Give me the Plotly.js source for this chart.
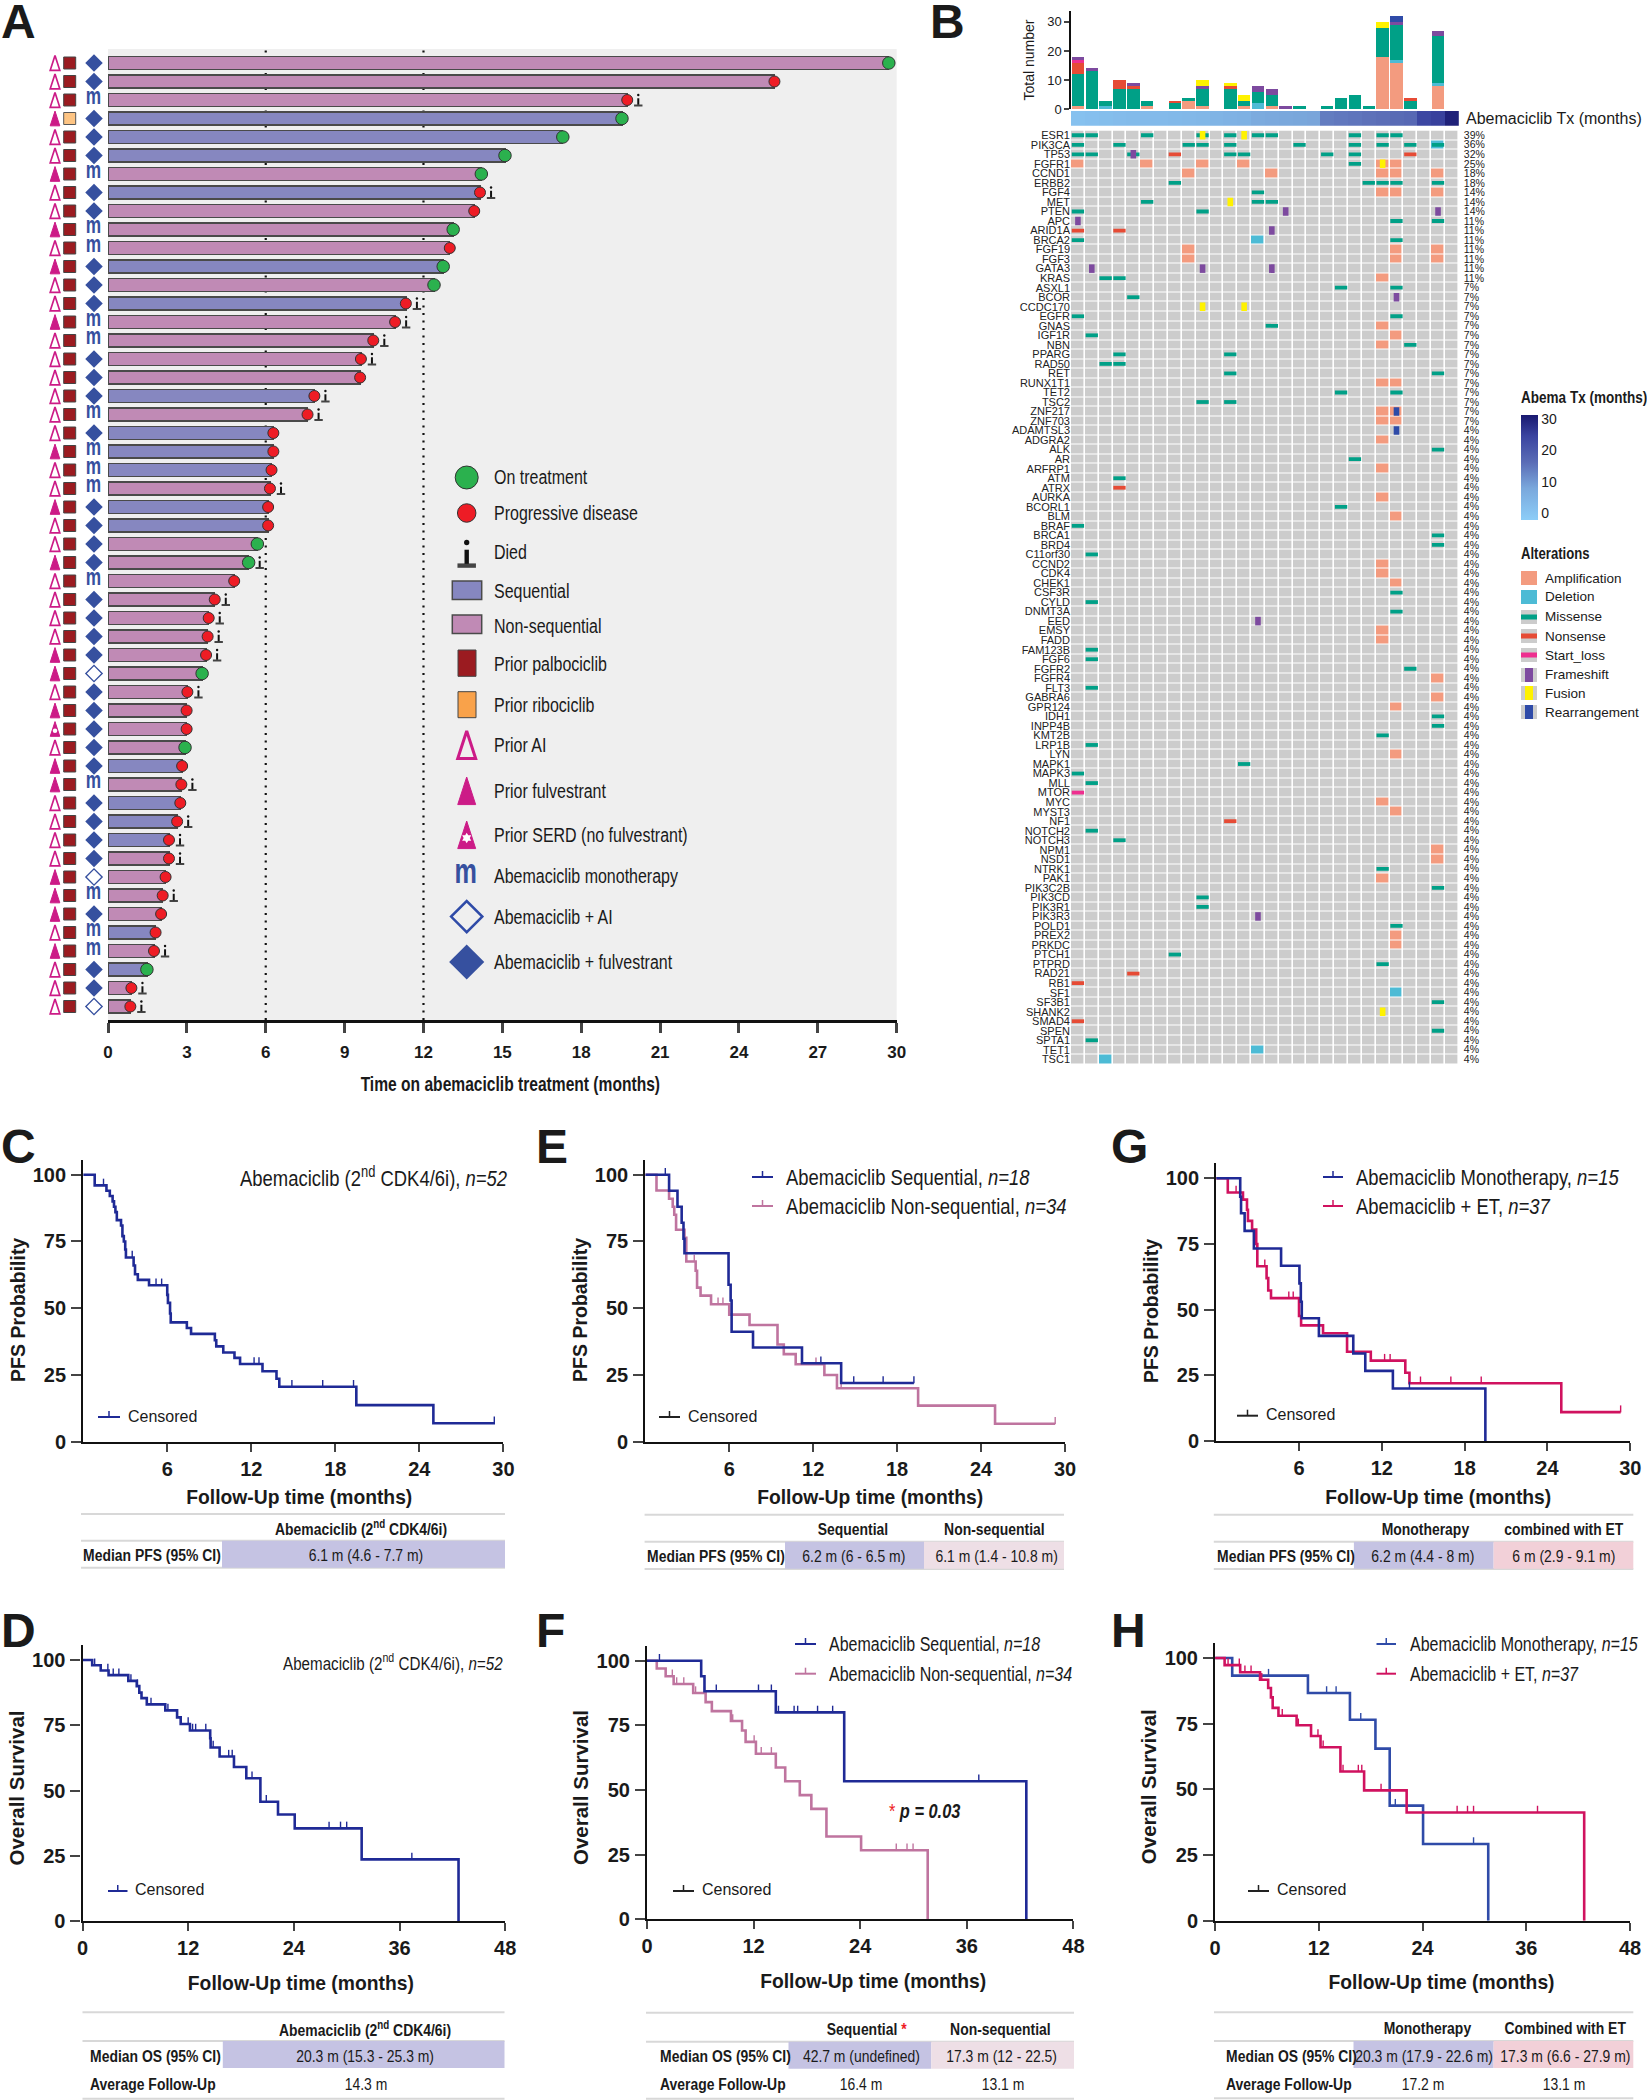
<!DOCTYPE html>
<html>
<head>
<meta charset="utf-8">
<script src="https://cdn.plot.ly/plotly-3.0.1.min.js"></script>
<style>body{margin:0;background:#fff}</style>
</head>
<body>
<div id="chart" style="width:1647px;height:2100px"></div>
<script>
// PANEL A - swimmer plot, one entry per patient, top to bottom
const patientMonths = [29.7,25.35,19.75,19.55,17.3,15.1,14.2,14.15,13.93,13.13,13.0,12.75,12.4,11.33,10.92,10.09,9.62,9.59,7.85,7.59,6.29,6.29,6.22,6.16,6.09,6.09,5.68,5.35,4.8,4.06,3.83,3.79,3.73,3.58,3.02,2.99,2.99,2.93,2.82,2.79,2.75,2.63,2.32,2.32,2.19,2.08,2.02,1.81,1.75,1.48,0.89,0.85];
const patientGroup = "N N N S S S N S N N N S N S N N N N S N S S S N S S N N N N N N N N N N N N S N S S S N N N N S N S N N".split(" ");
const patientOnTreatment = [1,4,5,6,7,10,12,13,27,28,34,38,50];
const patientDied = [3,8,14,15,16,17,19,20,24,28,30,31,32,33,35,40,42,43,44,46,49,51,52];
const priorEt = "A A A F A A F A A F A F A A F A A A A A A F A A F A A F A A A A F F A F S A F F A A A A F F F A F A A A".split(" ");
const priorCdk = patientMonths.map((m, i) => (i === 3 ? "R" : "P"));
const regimen = "D D M D D D M D D M M D D D M M D D D M D M M M D D D D M D D D D H D D D D D M D D D D H M D M M D D H".split(" ");
const swimmerTicks = [0,3,6,9,12,15,18,21,24,27,30];
const swimmerLegend = ["On treatment","Progressive disease","Died","Sequential","Non-sequential","Prior palbociclib","Prior ribociclib","Prior AI","Prior fulvestrant","Prior SERD (no fulvestrant)","Abemaciclib monotherapy","Abemaciclib + AI","Abemaciclib + fulvestrant"];

// PANEL B - oncoprint
const genes = ["ESR1","PIK3CA","TP53","FGFR1","CCND1","ERBB2","FGF4","MET","PTEN","APC","ARID1A","BRCA2","FGF19","FGF3","GATA3","KRAS","ASXL1","BCOR","CCDC170","EGFR","GNAS","IGF1R","NBN","PPARG","RAD50","RET","RUNX1T1","TET2","TSC2","ZNF217","ZNF703","ADAMTSL3","ADGRA2","ALK","AR","ARFRP1","ATM","ATRX","AURKA","BCORL1","BLM","BRAF","BRCA1","BRD4","C11orf30","CCND2","CDK4","CHEK1","CSF3R","CYLD","DNMT3A","EED","EMSY","FADD","FAM123B","FGF6","FGFR2","FGFR4","FLT3","GABRA6","GPR124","IDH1","INPP4B","KMT2B","LRP1B","LYN","MAPK1","MAPK3","MLL","MTOR","MYC","MYST3","NF1","NOTCH2","NOTCH3","NPM1","NSD1","NTRK1","PAK1","PIK3C2B","PIK3CD","PIK3R1","PIK3R3","POLD1","PREX2","PRKDC","PTCH1","PTPRD","RAD21","RB1","SF1","SF3B1","SHANK2","SMAD4","SPEN","SPTA1","TET1","TSC1"];
const genePercent = [39,36,32,25,18,18,14,14,14,11,11,11,11,11,11,11,7,7,7,7,7,7,7,7,7,7,7,7,7,7,7].concat(genes.slice(31).map(() => 4));
const sampleColumns = [0,1,2,3,4,5,6,7,8,9,10,11,12,13,14,15,16,17,18,19,20,21,22,23,24,25,26,27];
const sampleTxMonths = [1,1.5,2,2.5,2.8,3,3,3.2,3.5,3.8,4.5,5,5.5,7,7.5,7.8,8,8.2,14,14.5,15,15.5,16,16.5,17,24,25,30];

const totalAmplification = [1,0,0,0,0,1,0,0,3,1,0,0,1,0,1,0,0,0,0,0,0,0,18,16,0,0,8,0];
const totalDeletion = [0,0,1,0,0,0,0,0,0,0,0,0,0,2,0,0,0,0,0,0,0,0,0,1,0,0,1,0];
const totalMissense = [11,13,2,7,7,2,0,2,1,6,0,7,2,4,4,0,1,0,1,4,5,1,10,12,3,0,16,0];
const totalNonsense = [4,0,0,3,1,0,0,1,0,0,0,1,0,0,0,0,0,0,0,0,0,0,0,0,1,0,0,0];
const totalStartLoss = [1,0,0,0,0,0,0,0,0,0,0,0,0,0,0,0,0,0,0,0,0,0,0,0,0,0,0,0];
const totalFrameshift = [1,1,0,0,1,0,0,0,0,1,0,0,0,2,2,1,0,0,0,0,0,0,0,1,0,0,2,0];
const totalFusion = [0,0,0,0,0,0,0,0,0,2,0,1,2,0,0,0,0,0,0,0,0,0,2,0,0,0,0,0];
const totalRearrangement = [0,0,0,0,0,0,0,0,0,0,0,0,0,0,0,0,0,0,0,0,0,0,0,2,0,0,0,0];

const amplificationCells = [["FGFR1",[0,5,9,12,22,23]],["CCND1",[8,14,22,23,26]],["FGF4",[22,23,26]],["FGF19",[8,23,26]],["FGF3",[8,23,26]],["KRAS",[22]],["GNAS",[22]],["IGF1R",[23]],["NBN",[22]],["RUNX1T1",[22,23]],["ZNF217",[22,23]],["ZNF703",[22,23]],["ADGRA2",[22]],["ARFRP1",[22]],["AURKA",[22]],["BLM",[23]],["CCND2",[22]],["CDK4",[22]],["CHEK1",[23]],["EMSY",[22]],["FADD",[22]],["FGFR4",[26]],["GABRA6",[26]],["GPR124",[23]],["LYN",[23]],["MYC",[22]],["MYST3",[23]],["NPM1",[26]],["NSD1",[26]],["PAK1",[22]],["PREX2",[23]],["PRKDC",[23]]];
const deletionCells = [["PIK3CA",[26]],["BRCA2",[13]],["SF1",[23]],["TET1",[13]],["TSC1",[2]]];
const missenseCells = [["ESR1",[0,1,5,9,11,13,14,20,22,23]],["PIK3CA",[0,3,8,9,11,16,20,22,24,26]],["TP53",[0,1,4,11,12,18,20]],["FGFR1",[20]],["ERBB2",[7,21,22,23,26]],["FGF4",[13]],["MET",[5,13,14]],["PTEN",[0,9]],["APC",[23,26]],["BRCA2",[0,23]],["KRAS",[2,3]],["ASXL1",[19,23]],["BCOR",[4]],["EGFR",[0,23]],["GNAS",[14]],["IGF1R",[1]],["NBN",[24]],["PPARG",[3,11]],["RAD50",[2,3]],["RET",[11,26]],["TET2",[19,23]],["TSC2",[9,11]],["ALK",[26]],["AR",[20]],["ATM",[3]],["BCORL1",[19]],["BRAF",[0]],["BRCA1",[26]],["BRD4",[26]],["C11orf30",[1]],["CSF3R",[23]],["CYLD",[1]],["DNMT3A",[23]],["FAM123B",[1]],["FGF6",[1]],["FGFR2",[24]],["FLT3",[1]],["IDH1",[26]],["INPP4B",[26]],["KMT2B",[22]],["LRP1B",[1]],["MAPK1",[12]],["MAPK3",[0]],["MLL",[1]],["NOTCH2",[1]],["NOTCH3",[3]],["NTRK1",[22]],["PIK3C2B",[26]],["PIK3CD",[9]],["PIK3R1",[9]],["POLD1",[23]],["PTCH1",[7]],["PTPRD",[22]],["SF3B1",[26]],["SPEN",[26]],["SPTA1",[1]]];
const nonsenseCells = [["TP53",[7,24]],["ARID1A",[0,3]],["ATRX",[3]],["NF1",[11]],["RAD21",[4]],["RB1",[0]],["SMAD4",[0]]];
const startLossCells = [["MTOR",[0]]];
const frameshiftCells = [["TP53",[4]],["PTEN",[15,26]],["APC",[0]],["ARID1A",[14]],["GATA3",[1,9,14]],["BCOR",[23]],["EED",[13]],["PIK3R3",[13]]];
const fusionCells = [["ESR1",[9,12]],["FGFR1",[22]],["MET",[11]],["CCDC170",[9,12]],["SHANK2",[22]]];
const rearrangementCells = [["ZNF217",[23]],["ADAMTSL3",[23]]];
const alterationLabels = ["Amplification","Deletion","Missense","Nonsense","Start_loss","Frameshift","Fusion","Rearrangement"];

// KM CURVES - times of the steps, survival after each step, censor ticks
const cTimes = [0,0.82,1.66,1.9,2.1,2.2,2.3,2.4,2.7,2.8,2.9,3.0,3.05,3.6,3.7,3.9,4.7,6.0,6.05,6.2,6.25,7.4,7.7,9.4,9.5,10.0,10.8,11.2,12.8,13.8,14.0,19.5,25.0,29.4];
const cSurv = [100,96,94,92,90,88,86,83,81,77,75,72,69,66,62.7,60.6,58.6,55,52,48,44.7,42.6,40.4,38,35.7,33.4,31.4,29.1,26.4,23.6,20.6,13.7,6.9,6.9];
const cCensored = [1.45,3.5,5.2,5.6,12.2,12.55,14.9,17.1,19.3,29.35];

const dTimes = [0,1.1,2.07,2.96,5.2,6.16,6.45,6.7,7.3,9.4,10.74,11.15,12.2,14.5,14.55,15.57,17.2,18.6,20.2,22.2,24.1,31.7,42.7];
const dSurv = [100,98,96,94.2,92,90,87.5,85.4,83,80.7,78,75.5,73,70,66.5,63,59,54.7,45.7,40.8,35.5,23.6,0];
const dCensored = [1.38,2.88,3.49,4.13,5.5,6.24,7.78,9.7,12,12.5,12.85,14,14.84,16.6,17,19.25,20.87,28,29.3,30,37.4];

const eSeqTimes = [0,1.7,2.3,2.6,2.73,2.8,5.95,6.1,6.17,7.7,11.2,14.0,19.2];
const eSeqSurv = [100,94,88,82,76,70.6,58.8,52.9,41.2,35.3,29.4,22,22];
const eSeqCensored = [1.43,12.55,14.9,17.0,19.2];
const eNonTimes = [0,0.8,1.7,1.96,2.07,2.2,2.8,2.93,3.6,3.7,3.95,4.7,6.0,7.45,9.45,9.9,10.75,12.8,13.7,19.5,25,29.3];
const eNonSurv = [100,94.1,91,88,85,79.4,76.4,67.5,64,57.7,54.7,51.5,47.6,43.7,36.4,32.8,29,25,20,13.5,6.7,6.7];
const eNonCensored = [3.5,5.2,5.55,12.2,14,29.3];

const fSeqTimes = [0,6.1,6.47,14.5,22.2,42.7];
const fSeqSurv = [100,94,88.2,80,53.4,0];
const fSeqCensored = [1.4,7.8,12.55,14,14.8,16.56,16.96,19.2,20.9,37.35];
const fNonTimes = [0,1.1,2.1,3,5.2,6.6,7.3,9.45,10.7,11.1,12.26,14.5,15.56,17.2,18.5,20.2,24.1,31.6];
const fNonSurv = [100,97,94,91,87.5,84,80.5,76.7,73,68.6,64,58.7,53.4,48,42.7,32,26.7,0];
const fNonCensored = [2.85,3.34,4.14,5.47,6.47,9.65,12.06,12.86,14,28.06,29.27,29.95];

const gMonoTimes = [0,1.74,1.8,2.06,2.73,4.7,6.03,6.13,6.2,7.44,9.93,10.8,12.8,19.5];
const gMonoSurv = [100,93,86.7,80,73.3,66.7,60,53,46.7,40,33.3,26.7,20,0];
const gMonoCensored = [14];
const gEtTimes = [0,0.84,1.94,2.23,2.3,2.6,2.9,2.98,3.65,3.77,3.97,6.0,6.15,7.74,9.48,11.2,13.7,14,25,29.3];
const gEtSurv = [100,94.6,91.9,88,83.8,80.5,75,66.5,62,57.3,54.4,47.6,44,41,34,30.6,26,22,11,11];
const gEtCensored = [1.44,3.52,5.26,5.58,12.2,12.6,14.8,17,19.2,29.3];

const hMonoTimes = [0,1.98,10.74,15.6,18.55,20.2,24.06,31.6];
const hMonoSurv = [100,93.3,86.7,76.5,65.5,43.8,29.2,0];
const hMonoCensored = [6.18,12.9,14,16.85,20.85,29.9];
const hEtTimes = [0,1.1,2.9,5.2,6.14,6.46,6.66,7.33,9.43,11.1,12.2,14.5,17.24,22.16,42.7];
const hEtSurv = [100,97.3,94.6,91.7,88.6,85,81,78,74.4,70.3,66,56.8,49.6,41.2,0];
const hEtCensored = [1.5,2.8,3.45,4.16,5.4,7.77,9.63,11.9,12.5,14.8,16.57,16.97,19.2,28,29.2,29.9,37.3];

const pfsTicksX = [6,12,18,24,30];
const osTicksX = [0,12,24,36,48];
const survTicksY = [0,25,50,75,100];

// STYLES
const SANS = "'Liberation Sans',Arial,sans-serif";
const NARROW = "narrow"; // no narrow face installed, squeezed after drawing
const INK = "#1a1a1a";
const NAVY = "#1f2a96";
const MAUVE = "#bf749f";
const CRIMSON = "#d0125f";
const BLUE = "#2f4ba8";
const LAVENDER = "#c5c3e3";
const PINK_PALE = "#eedfe6";
const PINK = "#f2d0d8";
const MAGENTA = "#cc1b87";
const REGIMEN_BLUE = "#36509f";
const SEQ_BAR = "#8687c0";
const NON_BAR = "#c08ab5";
const ALT = {amp:"#f39b7f",del:"#4dbbd5",mis:"#00a087",non:"#e64b35",start:"#ee2f8f",frame:"#7d4a9f",fus:"#fff200",rear:"#2f4ba8"};

const W = 1647, H = 2100;
const SQUEEZE = 0.82;
const px = x => x / W;
const py = y => 1 - y / H;

const traces = [];
const shapes = [];
const annotations = [];
const squeezed = [];
const titleShifts = [];
const layout = {
  width: W, height: H,
  margin: {l:0,r:0,t:0,b:0},
  paper_bgcolor: "#fff",
  plot_bgcolor: "rgba(0,0,0,0)",
  showlegend: false,
  font: {family: SANS, color: INK},
  shapes, annotations
};

let axisCount = 0;
function newAxes(xa, ya) {
  axisCount++;
  const s = axisCount === 1 ? "" : String(axisCount);
  layout["xaxis" + s] = Object.assign({anchor: "y" + s, fixedrange: true, zeroline: false, showgrid: false}, xa);
  layout["yaxis" + s] = Object.assign({anchor: "x" + s, fixedrange: true, zeroline: false, showgrid: false}, ya);
  return {x: "x" + s, y: "y" + s};
}

function note(x, y, text, size, opts) {
  const o = opts || {};
  const family = o.family || NARROW;
  if (family === NARROW) squeezed.push({index: annotations.length, anchor: o.anchor || "left"});
  annotations.push({xref:"paper",yref:"paper",x:px(x),y:py(y),text,showarrow:false,
    xanchor:o.anchor||"left",yanchor:"middle",borderpad:0,
    font:{family:SANS,size,color:o.color||INK}});
}
function rect(x0, y0, x1, y1, fill, line) {
  shapes.push({type:"rect",xref:"paper",yref:"paper",layer:"below",x0:px(x0),x1:px(x1),y0:py(y0),y1:py(y1),
    fillcolor:fill,line:line||{width:0}});
}
function hline(x0, x1, y, color, width) {
  shapes.push({type:"line",xref:"paper",yref:"paper",layer:"below",x0:px(x0),x1:px(x1),y0:py(y),y1:py(y),line:{color,width}});
}
function censorKey(x0, x1, y, color) {
  hline(x0, x1, y, color, 2);
  const mid = (x0 + x1) / 2;
  shapes.push({type:"line",xref:"paper",yref:"paper",x0:px(mid),x1:px(mid),y0:py(y-6),y1:py(y),line:{color,width:1.5}});
}

// Panel letters
[["A",0,21],["B",929,21],["C",0,1146],["D",0,1630],["E",535,1146],["F",535,1630],["G",1110,1146],["H",1110,1630]]
  .forEach(p => note(p[1], p[2], "<b>" + p[0] + "</b>", 48, {family: SANS}));

// ---------- PANEL A ----------
const ROW_TOP = 63, ROW_STEP = 18.5, A_TOP = 49, A_BOTTOM = 1020;
const rowRange = [1 + (A_BOTTOM - ROW_TOP) / ROW_STEP, 1 + (A_TOP - ROW_TOP) / ROW_STEP];
const rows = patientMonths.map((m, i) => i + 1);

rect(108, A_TOP, 896.7, A_BOTTOM, "#efefef");
const swim = newAxes(
  {domain:[px(108),px(896.7)],range:[0,30],tickmode:"array",tickvals:swimmerTicks,ticks:"outside",ticklen:10,tickwidth:2.5,
   showline:true,linewidth:2.5,linecolor:"#111",ticklabelstandoff:5,tickfont:{size:17,weight:"bold"},
   title:{text:"<b>Time on abemaciclib treatment (months)</b>",font:{size:20},standoff:16}},
  {domain:[py(A_BOTTOM),py(A_TOP)],range:rowRange,visible:false}
);
[6,12].forEach(v => shapes.push({type:"line",xref:swim.x,yref:"paper",layer:"below",x0:v,x1:v,y0:py(A_BOTTOM),y1:py(A_TOP),
  line:{color:"#111",width:2.2,dash:"2px,5.5px"}}));

traces.push({type:"bar",orientation:"h",xaxis:swim.x,yaxis:swim.y,x:patientMonths,y:rows,width:0.7,
  marker:{color:patientGroup.map(g => g === "S" ? SEQ_BAR : NON_BAR),line:{color:"#4a4a4a",width:1.3}}});
traces.push({type:"scatter",mode:"markers",xaxis:swim.x,yaxis:swim.y,cliponaxis:false,
  x:patientMonths.filter((m,i) => !patientOnTreatment.includes(i+1)),
  y:rows.filter(r => !patientOnTreatment.includes(r)),
  marker:{color:"#ee1c25",size:11,line:{color:"#333",width:1}}});
traces.push({type:"scatter",mode:"markers",xaxis:swim.x,yaxis:swim.y,cliponaxis:false,
  x:patientOnTreatment.map(r => patientMonths[r-1]),y:patientOnTreatment,
  marker:{color:"#2bb14e",size:12.5,line:{color:"#333",width:1}}});

function candle(ax, xs, ys, k, unit) {
  traces.push({type:"scatter",mode:"markers",xaxis:ax.x,yaxis:ax.y,cliponaxis:false,x:xs,y:ys.map(v => v + 5.5*k/unit),
    marker:{symbol:"line-ew",size:6*k,line:{color:"#444",width:2*k}}});
  traces.push({type:"scatter",mode:"markers",xaxis:ax.x,yaxis:ax.y,cliponaxis:false,x:xs,y:ys.map(v => v + 1.5*k/unit),
    marker:{symbol:"line-ns",size:4.6*k,line:{color:"#111",width:2*k}}});
  traces.push({type:"scatter",mode:"markers",xaxis:ax.x,yaxis:ax.y,cliponaxis:false,x:xs,y:ys.map(v => v - 5*k/unit),
    marker:{color:"#111",size:2.4*k}});
}
candle(swim, patientDied.map(r => patientMonths[r-1] + 0.42), patientDied, 1, ROW_STEP);

// Symbol columns left of the bars, x axis in page pixels
const symbols = newAxes({domain:[px(40),px(106)],range:[40,106],visible:false},
  {domain:[py(A_BOTTOM),py(A_TOP)],range:rowRange,visible:false});
const COL_ET = 55, COL_CDK = 69.7, COL_REG = 94;
const pick = (arr, key) => rows.filter((r, i) => arr[i] === key);
const symTrace = (col, ys, marker, dy) => traces.push({type:"scatter",mode:"markers",xaxis:symbols.x,yaxis:symbols.y,
  x:ys.map(() => col),y:ys.map(v => v - (dy||0)),marker});
symTrace(COL_ET, pick(priorEt,"A"), {symbol:"arrow-open",size:15.5,color:MAGENTA,line:{color:MAGENTA,width:1.7}}, 0.4);
symTrace(COL_ET, pick(priorEt,"F"), {symbol:"arrow",size:15.5,color:MAGENTA,line:{color:MAGENTA,width:1}}, 0.4);
symTrace(COL_ET, pick(priorEt,"S"), {symbol:"arrow",size:15.5,color:MAGENTA,line:{color:MAGENTA,width:1}}, 0.4);
symTrace(COL_ET, pick(priorEt,"S"), {symbol:"circle",size:4.5,color:"#fff"}, -0.1);
symTrace(COL_CDK, pick(priorCdk,"P"), {symbol:"square",size:12,color:"#9b1b20",line:{color:"#444",width:1}});
symTrace(COL_CDK, pick(priorCdk,"R"), {symbol:"square",size:12,color:"#fdc483",line:{color:"#555",width:1}});
symTrace(COL_REG, pick(regimen,"D"), {symbol:"diamond",size:13.5,color:REGIMEN_BLUE});
symTrace(COL_REG, pick(regimen,"H"), {symbol:"diamond-open",size:12.5,color:REGIMEN_BLUE,line:{color:REGIMEN_BLUE,width:1.4}});
traces.push({type:"scatter",mode:"text",xaxis:symbols.x,yaxis:symbols.y,x:pick(regimen,"M").map(() => COL_REG-0.5),
  y:pick(regimen,"M").map(v => v - 0.12),text:pick(regimen,"M").map(() => "m"),textposition:"middle center",
  textfont:{family:SANS,size:24,color:REGIMEN_BLUE,weight:"bold"}});

// Full page axes in pixels, for the hand placed keys
const page = newAxes({domain:[0,1],range:[0,W],visible:false},{domain:[0,1],range:[H,0],visible:false});
const legendYs = [477.5,513,552.5,590.7,626,664,705,745,791,835,876,916.6,962];
swimmerLegend.forEach((t, i) => note(493, legendYs[i], t, 19.5));
const KEY_X = 466.7;
const keyMark = (x, y, marker) => traces.push({type:"scatter",mode:"markers",xaxis:page.x,yaxis:page.y,x:[x],y:[y],marker});
keyMark(KEY_X, legendYs[0], {color:"#2bb14e",size:23,line:{color:"#333",width:1}});
keyMark(KEY_X, legendYs[1], {color:"#ee1c25",size:18.5,line:{color:"#333",width:1}});
candle(page, [KEY_X], [legendYs[2]+1], 2.2, 1);
rect(452.3, 581, 481.7, 599.6, SEQ_BAR, {color:"#4a4a4a",width:1.5});
rect(452.3, 615, 481.7, 633.5, NON_BAR, {color:"#4a4a4a",width:1.5});
rect(458, 650, 476, 676.3, "#9b1b20", {color:"#444",width:1});
rect(458, 691.7, 476, 717.7, "#f9a24a", {color:"#444",width:1});
keyMark(KEY_X, legendYs[7]-14, {symbol:"arrow-open",size:29,color:MAGENTA,line:{color:MAGENTA,width:3}});
keyMark(KEY_X, legendYs[8]-14, {symbol:"arrow",size:29,color:MAGENTA,line:{color:MAGENTA,width:1}});
keyMark(KEY_X, legendYs[9]-14, {symbol:"arrow",size:29,color:MAGENTA,line:{color:MAGENTA,width:1}});
keyMark(KEY_X, legendYs[9]+3, {symbol:"hexagram",size:8,color:"#fff"});
traces.push({type:"scatter",mode:"text",xaxis:page.x,yaxis:page.y,x:[KEY_X-1],y:[legendYs[10]-2],text:["m"],
  textposition:"middle center",textfont:{family:SANS,size:35,color:REGIMEN_BLUE,weight:"bold"}});
keyMark(KEY_X, legendYs[11], {symbol:"diamond-open",size:24,color:"#2f4ba8",line:{color:"#2f4ba8",width:2.5}});
keyMark(KEY_X, legendYs[12], {symbol:"diamond",size:27,color:REGIMEN_BLUE});

// ---------- PANEL B ----------
const COL_L = 1071, COL_R = 1458.8;
const colDomain = [px(COL_L), px(COL_R)];
const colRange = [-0.5, 27.5];

const tot = newAxes({domain:colDomain,range:colRange,visible:false},
  {domain:[py(109.3),py(10.7)],range:[0,33.8],tickmode:"array",tickvals:[0,10,20,30],ticks:"outside",ticklen:5,tickwidth:1.5,
   showline:true,linewidth:1.5,linecolor:"#111",tickfont:{size:13},title:{text:"Total number",font:{size:14},standoff:9}});
[[totalAmplification,ALT.amp],[totalDeletion,ALT.del],[totalMissense,ALT.mis],[totalNonsense,ALT.non],[totalStartLoss,ALT.start],[totalFrameshift,ALT.frame],[totalFusion,ALT.fus],[totalRearrangement,ALT.rear]]
  .forEach(s => traces.push({type:"bar",xaxis:tot.x,yaxis:tot.y,x:sampleColumns,y:s[0],width:0.9,marker:{color:s[1]}}));
layout.barmode = "stack";

const strip = newAxes({domain:colDomain,range:colRange,visible:false},{domain:[py(125.7),py(111)],range:[-0.5,0.5],visible:false});
traces.push({type:"heatmap",xaxis:strip.x,yaxis:strip.y,x:sampleColumns,y:[0],z:[sampleTxMonths],zmin:-2.2,zmax:31.3,
  colorscale:[[0,"#8ccdf8"],[0.3,"#7aa8dc"],[0.55,"#5a6cb6"],[0.8,"#3a44a0"],[1,"#191970"]],
  colorbar:{x:px(1521),xanchor:"left",xpad:0,y:py(415),yanchor:"top",ypad:0,len:105,lenmode:"pixels",thickness:17,thicknessmode:"pixels",
    outlinewidth:0,tickmode:"array",tickvals:[0,10,20,30],ticks:"",tickfont:{family:SANS,size:14}}});
note(1465.4, 119, "Abemaciclib Tx (months)", 16, {family:SANS});
note(1520, 397, "<b>Abema Tx (months)</b>", 16.5);

const geneIdx = genes.map((g, i) => i);
const oncoY = {domain:[py(1064.1),py(130.5)],range:[97.5,-0.5]};
const onco = newAxes({domain:colDomain,range:colRange,visible:false},
  Object.assign({tickmode:"array",tickvals:geneIdx,ticktext:genes,ticks:"",tickfont:{size:11,color:"#222"}}, oncoY));
const zCells = genes.map(() => sampleColumns.map(() => 0));
amplificationCells.forEach(c => c[1].forEach(col => { zCells[genes.indexOf(c[0])][col] = 1; }));
deletionCells.forEach(c => c[1].forEach(col => { zCells[genes.indexOf(c[0])][col] = 2; }));
traces.push({type:"heatmap",xaxis:onco.x,yaxis:onco.y,x:sampleColumns,y:geneIdx,z:zCells,zmin:0,zmax:2,xgap:1.6,ygap:1,showscale:false,
  colorscale:[[0,"#cccccc"],[0.25,"#cccccc"],[0.25,ALT.amp],[0.75,ALT.amp],[0.75,ALT.del],[1,ALT.del]]});
function cellMarks(list, symbol, size, width, color) {
  const xs = [], ys = [];
  list.forEach(c => c[1].forEach(col => { xs.push(col); ys.push(genes.indexOf(c[0])); }));
  traces.push({type:"scatter",mode:"markers",xaxis:onco.x,yaxis:onco.y,x:xs,y:ys,marker:{symbol,size,line:{color,width}}});
}
// line symbols reach 1.4 x size end to end
cellMarks(missenseCells, "line-ew", 8.8, 3.8, ALT.mis);
cellMarks(nonsenseCells, "line-ew", 8.8, 3.8, ALT.non);
cellMarks(startLossCells, "line-ew", 8.8, 3.8, ALT.start);
cellMarks(frameshiftCells, "line-ns", 6.1, 5.6, ALT.frame);
cellMarks(fusionCells, "line-ns", 6.1, 5.6, ALT.fus);
cellMarks(rearrangementCells, "line-ns", 6.1, 5.6, ALT.rear);

// Percent labels on a right hand axis sharing the rows
const pctName = "yaxis" + (axisCount + 1);
layout[pctName] = Object.assign({overlaying:onco.y,side:"right",anchor:onco.x,fixedrange:true,zeroline:false,showgrid:false,
  tickmode:"array",tickvals:geneIdx,ticktext:genePercent.map(p => p + "%"),ticks:"",ticklabelstandoff:4,tickfont:{size:10.5,color:"#222"}}, oncoY);
traces.push({type:"scatter",mode:"none",xaxis:onco.x,yaxis:"y" + (axisCount + 1),x:[0],y:[0]});
axisCount++;

note(1520, 553, "<b>Alterations</b>", 16);
const ALT_Y = [578,597,617,636,655,675,693,712];
alterationLabels.forEach((t, i) => note(1544, ALT_Y[i], t, 13.5, {family:SANS}));
rect(1521, 571, 1537, 585, ALT.amp);
rect(1521, 590, 1537, 604, ALT.del);
[2,3,4,5,6,7].forEach(i => { rect(1521, ALT_Y[i]-7, 1537, ALT_Y[i]+7, "#cccccc"); });
rect(1521, ALT_Y[2]-2.5, 1537, ALT_Y[2]+2.5, ALT.mis);
rect(1521, ALT_Y[3]-2.5, 1537, ALT_Y[3]+2.5, ALT.non);
rect(1521, ALT_Y[4]-2.5, 1537, ALT_Y[4]+2.5, ALT.start);
rect(1525, ALT_Y[5]-7, 1533, ALT_Y[5]+7, ALT.frame);
rect(1525, ALT_Y[6]-7, 1533, ALT_Y[6]+7, ALT.fus);
rect(1525, ALT_Y[7]-7, 1533, ALT_Y[7]+7, ALT.rear);

// ---------- KM PANELS ----------
function survAt(times, surv, t) {
  let v = surv[0];
  for (let i = 0; i < times.length; i++) { if (times[i] <= t) v = surv[i]; }
  return v;
}
function kmPanel(p) {
  const unit = (p.y0 - p.y100) / 100;
  const ax = newAxes(
    {domain:[px(p.x0),px(p.x1)],range:[0,p.xMax],tickmode:"array",tickvals:p.xTicks,ticks:"outside",ticklen:8,tickwidth:2,
     showline:true,linewidth:2.2,linecolor:"#111",ticklabelstandoff:0,tickfont:{size:20,weight:"bold"},
     title:{text:"<b>Follow-Up time (months)</b>",font:{size:19.3},standoff:p.xStandoff}},
    {domain:[py(p.y0),py(p.yTop)],range:[0,(p.y0-p.yTop)/unit],tickmode:"array",tickvals:survTicksY,ticks:"outside",ticklen:10,tickwidth:2,
     showline:true,linewidth:2.2,linecolor:"#111",ticklabelstandoff:1,tickfont:{size:20,weight:"bold"},
     title:{text:"<b>" + p.yTitle + "</b>",font:{size:p.yFont},standoff:p.yStandoff}}
  );
  titleShifts.push({cls: ".g-" + ax.x + "title text", dx: p.xTitleDx, dy: 0});
  titleShifts.push({cls: ".g-" + ax.y + "title text", dx: 0, dy: p.yTitleDy});
  p.curves.forEach(c => {
    traces.push({type:"scatter",mode:"lines",xaxis:ax.x,yaxis:ax.y,x:c.t,y:c.s,cliponaxis:false,line:{shape:"hv",color:c.color,width:2.6}});
    traces.push({type:"scatter",mode:"markers",xaxis:ax.x,yaxis:ax.y,cliponaxis:false,x:c.c,y:c.c.map(t => survAt(c.t, c.s, t) + 3.2/unit),
      marker:{symbol:"line-ns",size:5,line:{color:c.color,width:1.4}}});
  });
}
function kmTable(x0, x1, ys, cols, rowsText) {
  ys.forEach(y => hline(x0, x1, y, "#d8d8d8", 2));
  cols.forEach(c => {
    rect(c.x0, ys[1], c.x1, ys[1] + 27, c.fill);
    note(c.head, ys[1] - 12.5, "<b>" + c.title + "</b>", 17, {anchor:"center"});
    rowsText.forEach((r, i) => note(c.vals[i], ys[1] + 15 + i * 28, c.text[i], 17, {anchor:"center"}));
  });
  rowsText.forEach((r, i) => note(r.x, ys[1] + 15 + i * 28, "<b>" + r.label + "</b>", 17));
}

// C
kmPanel({x0:83.2,x1:503.4,xMax:30,xTicks:pfsTicksX,y0:1441.7,y100:1174.7,yTop:1160,yTitle:"PFS Probability",xStandoff:12,yStandoff:2,yFont:19.5,xTitleDx:6,yTitleDy:9,
  curves:[{t:cTimes,s:cSurv,c:cCensored,color:NAVY}]});
note(238.5, 1177, "Abemaciclib (2<sup>nd</sup> CDK4/6i), <i>n=52</i>", 22.5);
censorKey(98, 120, 1417, NAVY);
note(127, 1416, "Censored", 16, {family:SANS});
kmTable(81, 505, [1514,1540.7,1567.7],
  [{x0:222,x1:505,fill:LAVENDER,head:360.6,title:"Abemaciclib (2<sup>nd</sup> CDK4/6i)",vals:[366],text:["6.1 m (4.6 - 7.7 m)"]}],
  [{x:82,label:"Median PFS (95% CI)"}]);

// E
kmPanel({x0:645.3,x1:1065,xMax:30,xTicks:pfsTicksX,y0:1441.7,y100:1174.7,yTop:1160,yTitle:"PFS Probability",xStandoff:12,yStandoff:2,yFont:19.5,xTitleDx:15,yTitleDy:9,
  curves:[{t:eNonTimes,s:eNonSurv,c:eNonCensored,color:MAUVE},{t:eSeqTimes,s:eSeqSurv,c:eSeqCensored,color:NAVY}]});
censorKey(752, 773, 1177, NAVY);
censorKey(752, 773, 1206, MAUVE);
note(785, 1177, "Abemaciclib Sequential, <i>n=18</i>", 22.5);
note(785, 1206, "Abemaciclib Non-sequential, <i>n=34</i>", 22.5);
censorKey(659, 680, 1417, "#222");
note(687, 1416, "Censored", 16, {family:SANS});
kmTable(644.6, 1064, [1514.7,1541.7,1569],
  [{x0:785,x1:924,fill:LAVENDER,head:853,title:"Sequential",vals:[854],text:["6.2 m (6 - 6.5 m)"]},
   {x0:924,x1:1064,fill:PINK_PALE,head:994,title:"Non-sequential",vals:[996],text:["6.1 m (1.4 - 10.8 m)"]}],
  [{x:646.4,label:"Median PFS (95% CI)"}]);

// G
kmPanel({x0:1216.2,x1:1630.3,xMax:30,xTicks:pfsTicksX,y0:1441,y100:1178.3,yTop:1163,yTitle:"PFS Probability",xStandoff:12,yStandoff:2,yFont:19.5,xTitleDx:15,yTitleDy:9,
  curves:[{t:gEtTimes,s:gEtSurv,c:gEtCensored,color:CRIMSON},{t:gMonoTimes,s:gMonoSurv,c:gMonoCensored,color:NAVY}]});
censorKey(1323, 1343, 1177, NAVY);
censorKey(1323, 1343, 1206, CRIMSON);
note(1355, 1177, "Abemaciclib Monotherapy, <i>n=15</i>", 22.5);
note(1355, 1206, "Abemaciclib + ET, <i>n=37</i>", 22.5);
censorKey(1237, 1258, 1415.7, "#222");
note(1265, 1414, "Censored", 16, {family:SANS});
kmTable(1213.8, 1633.3, [1514.7,1541.7,1569],
  [{x0:1353.9,x1:1493.6,fill:LAVENDER,head:1425,title:"Monotherapy",vals:[1423.4],text:["6.2 m (4.4 - 8 m)"]},
   {x0:1493.6,x1:1633.3,fill:PINK,head:1564,title:"combined with ET",vals:[1563.8],text:["6 m (2.9 - 9.1 m)"]}],
  [{x:1215.5,label:"Median PFS (95% CI)"}]);

// D
kmPanel({x0:82.5,x1:505.2,xMax:48,xTicks:osTicksX,y0:1921,y100:1660,yTop:1645,yTitle:"Overall Survival",xStandoff:18,yStandoff:2,yFont:20.5,xTitleDx:7,yTitleDy:5,
  curves:[{t:dTimes,s:dSurv,c:dCensored,color:NAVY}]});
note(281.7, 1662, "Abemaciclib (2<sup>nd</sup> CDK4/6i), <i>n=52</i>", 18.5);
censorKey(108, 127.5, 1891, NAVY);
note(134, 1889, "Censored", 16, {family:SANS});
kmTable(82.5, 504.5, [2012.3,2041,2098.7],
  [{x0:222.8,x1:504.5,fill:LAVENDER,head:364.9,title:"Abemaciclib (2<sup>nd</sup> CDK4/6i)",vals:[365,366],text:["20.3 m (15.3 - 25.3 m)","14.3 m"]}],
  [{x:89,label:"Median OS (95% CI)"},{x:89,label:"Average Follow-Up"}]);

// F
kmPanel({x0:647,x1:1073.4,xMax:48,xTicks:osTicksX,y0:1919.3,y100:1660.7,yTop:1645.7,yTitle:"Overall Survival",xStandoff:18,yStandoff:2,yFont:20.5,xTitleDx:13,yTitleDy:5,
  curves:[{t:fNonTimes,s:fNonSurv,c:fNonCensored,color:MAUVE},{t:fSeqTimes,s:fSeqSurv,c:fSeqCensored,color:NAVY}]});
censorKey(795, 816, 1644, NAVY);
censorKey(795, 816, 1673.7, MAUVE);
note(828, 1644, "Abemaciclib Sequential, <i>n=18</i>", 19.5);
note(828, 1673.7, "Abemaciclib Non-sequential, <i>n=34</i>", 19.5);
note(924, 1811, "<span style=\"color:#ee1c25\">*</span> <b><i>p = 0.03</i></b>", 20, {anchor:"center"});
censorKey(673, 694, 1891, "#222");
note(701.4, 1889, "Censored", 16, {family:SANS});
kmTable(646, 1074, [2012.7,2041.7,2098.7],
  [{x0:788.5,x1:931.3,fill:LAVENDER,head:866.7,title:"Sequential <span style=\"color:#ee1c25\">*</span>",vals:[861.3,860.6],text:["42.7 m (undefined)","16.4 m"]},
   {x0:931.3,x1:1074,fill:PINK_PALE,head:1000.5,title:"Non-sequential",vals:[1001.6,1003.4],text:["17.3 m (12 - 22.5)","13.1 m"]}],
  [{x:659,label:"Median OS (95% CI)"},{x:659,label:"Average Follow-Up"}]);

// H
kmPanel({x0:1215.1,x1:1630,xMax:48,xTicks:osTicksX,y0:1920.7,y100:1658,yTop:1642.7,yTitle:"Overall Survival",xStandoff:18,yStandoff:2,yFont:20.5,xTitleDx:19,yTitleDy:5,
  curves:[{t:hMonoTimes,s:hMonoSurv,c:hMonoCensored,color:BLUE},{t:hEtTimes,s:hEtSurv,c:hEtCensored,color:CRIMSON}]});
censorKey(1376.5, 1396, 1644, BLUE);
censorKey(1376.5, 1396, 1673.7, CRIMSON);
note(1408.7, 1644, "Abemaciclib Monotherapy, <i>n=15</i>", 19.5);
note(1408.7, 1673.7, "Abemaciclib + ET, <i>n=37</i>", 19.5);
censorKey(1248, 1269, 1891, "#222");
note(1276, 1889, "Censored", 16, {family:SANS});
kmTable(1214, 1633.3, [2012.3,2041,2098.3],
  [{x0:1353.5,x1:1493.6,fill:LAVENDER,head:1427.8,title:"Monotherapy",vals:[1424.4,1423],text:["20.3 m (17.9 - 22.6 m)","17.2 m"]},
   {x0:1493.6,x1:1633.3,fill:PINK,head:1565.5,title:"Combined with ET",vals:[1565.5,1563.8],text:["17.3 m (6.6 - 27.9 m)","13.1 m"]}],
  [{x:1224.7,label:"Median OS (95% CI)"},{x:1224.7,label:"Average Follow-Up"}]);

// squeeze text sideways about its anchor, the original uses a narrow face
function squeezeText(el, k, anchor, dx) {
  const b = el.getBBox();
  const ox = anchor === "left" ? b.x : b.x + b.width / 2;
  el.setAttribute("transform", "translate(" + (ox + (dx||0)) + ",0) scale(" + k + ",1) translate(" + (-ox) + ",0)");
}

Plotly.newPlot("chart", traces, layout, {displayModeBar:false, responsive:false}).then(gd => {
  squeezed.forEach(s => {
    const t = gd.querySelector('.annotation[data-index="' + s.index + '"] text');
    if (t) squeezeText(t, SQUEEZE, s.anchor);
  });
  gd.querySelectorAll(".textpoint text").forEach(t => squeezeText(t, 0.72, "center"));
  gd.querySelectorAll(".g-xtitle text").forEach(t => {
    if (t.textContent.indexOf("Time on") === 0) squeezeText(t, 0.78, "center", 8);
  });
  // axis titles sit off centre in the original
  titleShifts.forEach(s => {
    const t = gd.querySelector(s.cls);
    if (t) t.setAttribute("transform", "translate(" + s.dx + "," + s.dy + ") " + (t.getAttribute("transform") || ""));
  });
});
</script>
</body>
</html>
